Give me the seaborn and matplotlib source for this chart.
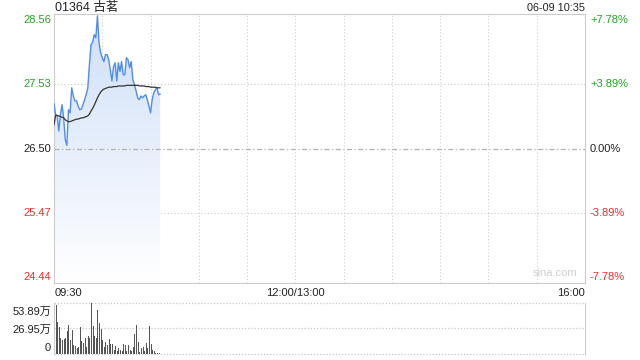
import numpy as np
import matplotlib.pyplot as plt
import seaborn as sns
from matplotlib.colors import LinearSegmentedColormap
from matplotlib.transforms import blended_transform_factory

# intraday data, one point per minute from 09:30
price = [27.22, 27.04, 27.02, 26.78, 27.04, 27.20, 26.99, 26.64, 26.55, 27.12,
         27.07, 27.47, 27.34, 27.26, 27.26, 27.18, 27.12, 27.13, 27.20, 27.28,
         27.36, 27.47, 27.84, 28.16, 28.20, 28.32, 28.27, 28.62, 28.19, 28.03,
         27.95, 27.89, 28.00, 28.00, 27.92, 27.76, 27.58, 27.81, 27.87, 27.58,
         27.87, 27.73, 27.89, 27.68, 27.68, 27.95, 27.92, 27.79, 27.89, 27.60,
         27.52, 27.42, 27.31, 27.28, 27.34, 27.31, 27.34, 27.36, 27.28, 27.18,
         27.07, 27.28, 27.39, 27.44, 27.47, 27.36, 27.37]
avg_price = [26.88, 27.03, 27.03, 27.02, 27.01, 27.00, 26.99, 26.96, 26.94, 26.93,
             26.93, 26.94, 26.95, 26.96, 26.97, 26.97, 26.98, 26.99, 26.99, 27.00,
             27.01, 27.02, 27.05, 27.10, 27.14, 27.19, 27.25, 27.31, 27.36, 27.40,
             27.43, 27.45, 27.46, 27.47, 27.48, 27.48, 27.48, 27.49, 27.49, 27.49,
             27.50, 27.50, 27.50, 27.50, 27.50, 27.51, 27.51, 27.51, 27.51, 27.51,
             27.51, 27.51, 27.51, 27.50, 27.50, 27.50, 27.50, 27.49, 27.49, 27.49,
             27.48, 27.48, 27.48, 27.48, 27.47, 27.47, 27.47]
volume = [22.3, 51.4, 34.1, 28.7, 16.9, 15.1, 16.2, 16.9, 24.1, 30.5,
          14.4, 25.1, 9.7, 8.3, 6.5, 7.2, 28.7, 13.7, 11.5, 16.9,
          7.2, 18.7, 16.9, 53.89, 29.5, 18.7, 17.2, 46.0, 32.3, 26.2,
          14.4, 7.2, 12.6, 9.0, 15.8, 10.4, 10.4, 4.3, 8.3, 3.6,
          6.1, 4.7, 3.6, 10.1, 9.0, 3.6, 9.0, 4.3, 3.6, 7.9,
          20.8, 30.5, 12.6, 2.5, 6.5, 7.9, 2.9, 11.5, 6.5, 29.8,
          10.1, 4.7, 3.6, 0.7, 0.7, 1.2, 0.5]
minutes = list(range(len(price)))

price_ticks = [24.44, 25.47, 26.50, 27.53, 28.56]
pct_labels = ['-7.78%', '-3.89%', '0.00%', '+3.89%', '+7.78%']
vol_ticks = [0, 26.95, 53.89]
vol_labels = ['0', '26.95万', '53.89万']
title = '01364 古茗'
stamp = '06-09 10:35'

GREEN = '#22a322'
RED = '#ee2b2b'
tick_colors = [RED, RED, '#222222', GREEN, GREEN]

sns.set_style('white')
plt.rcParams['font.family'] = ['Liberation Sans', 'Noto Sans CJK SC', 'DejaVu Sans']

fig = plt.figure(figsize=(6.4, 3.6), dpi=100)
ax = fig.add_axes([54 / 640, 1 - 283 / 360, 531 / 640, 269 / 360])
axv = fig.add_axes([54 / 640, 1 - 354 / 360, 531 / 640, 51 / 360])

ylo, yhi = 24.35, 28.65

# gradient fill under the price line
poly = ax.fill_between(minutes, price, ylo, color='none', lw=0)
cmap = LinearSegmentedColormap.from_list('fade', ['#ffffff', '#cfdff8'])
grad = np.linspace(1, 0, 256).reshape(-1, 1)
im = ax.imshow(grad, extent=[0, minutes[-1], ylo, max(price)], aspect='auto',
               cmap=cmap, origin='upper', zorder=1)
im.set_clip_path(poly.get_paths()[0], transform=ax.transData)

sns.lineplot(x=minutes, y=price, ax=ax, color='#4f8cf0', linewidth=1.0, zorder=3)
sns.lineplot(x=minutes, y=avg_price, ax=ax, color='#333333', linewidth=0.9, zorder=4)

ax.set_xlim(0, 330)
ax.set_ylim(ylo, yhi)
ax.set_xticks([])
ax.set_yticks([])
ax.set_xlabel('')
ax.set_ylabel('')

for x in range(30, 330, 30):
    ax.axvline(x, color='#d0d0d0', lw=0.8, ls=(0, (1, 2)), zorder=0)
for y in [25.47, 27.53]:
    ax.axhline(y, color='#c8c8c8', lw=0.8, ls=(0, (1, 2)), zorder=0)
ax.axhline(26.50, color='#b0b0b0', lw=0.9, ls=(0, (4, 2, 1, 2)), zorder=2)

for s in ax.spines.values():
    s.set_color('#cccccc')
    s.set_linewidth(0.8)

tl = blended_transform_factory(fig.transFigure, ax.transData)
for v, c, p in zip(price_ticks, tick_colors, pct_labels):
    fig.text(51 / 640, v, f'{v:.2f}', transform=tl, ha='right', va='center',
             color=c, fontsize=8)
    fig.text(590 / 640, v, p, transform=tl, ha='left', va='center',
             color=c, fontsize=8)

fig.text(55 / 640, 1 - 8 / 360, title, ha='left', va='center', fontsize=9,
         color='#222222')
fig.text(585 / 640, 1 - 8 / 360, stamp, ha='right', va='center', fontsize=7.8,
         color='#222222')
ax.text(0.985, 0.02, 'sina.com', transform=ax.transAxes, ha='right',
        va='bottom', fontsize=8, color='#cfcfcf')

for x, lab, ha in [(55, '09:30', 'left'), (295, '12:00/13:00', 'center'),
                   (585, '16:00', 'right')]:
    fig.text(x / 640, 1 - 293 / 360, lab, ha=ha, va='center', fontsize=8,
             color='#222222')

# volume panel
axv.vlines(minutes, 0, volume, colors='#555555', linewidth=0.72,
           antialiased=False, zorder=2)
axv.set_xlim(0, 330)
axv.set_ylim(0, 53.89)
axv.set_xticks([])
axv.set_yticks([])
for y in vol_ticks:
    axv.axhline(y, color='#c8c8c8', lw=0.9, ls=(0, (1, 1.5)), zorder=0,
                clip_on=False)
for k in ['top', 'bottom']:
    axv.spines[k].set_visible(False)
for k in ['left', 'right']:
    axv.spines[k].set_color('#cccccc')
    axv.spines[k].set_linewidth(0.8)

for y, lab in zip([348, 330, 312], vol_labels):
    fig.text(51 / 640, 1 - y / 360, lab, ha='right', va='center', fontsize=8,
             color='#222222')

fig.savefig('out.png', dpi=100)
